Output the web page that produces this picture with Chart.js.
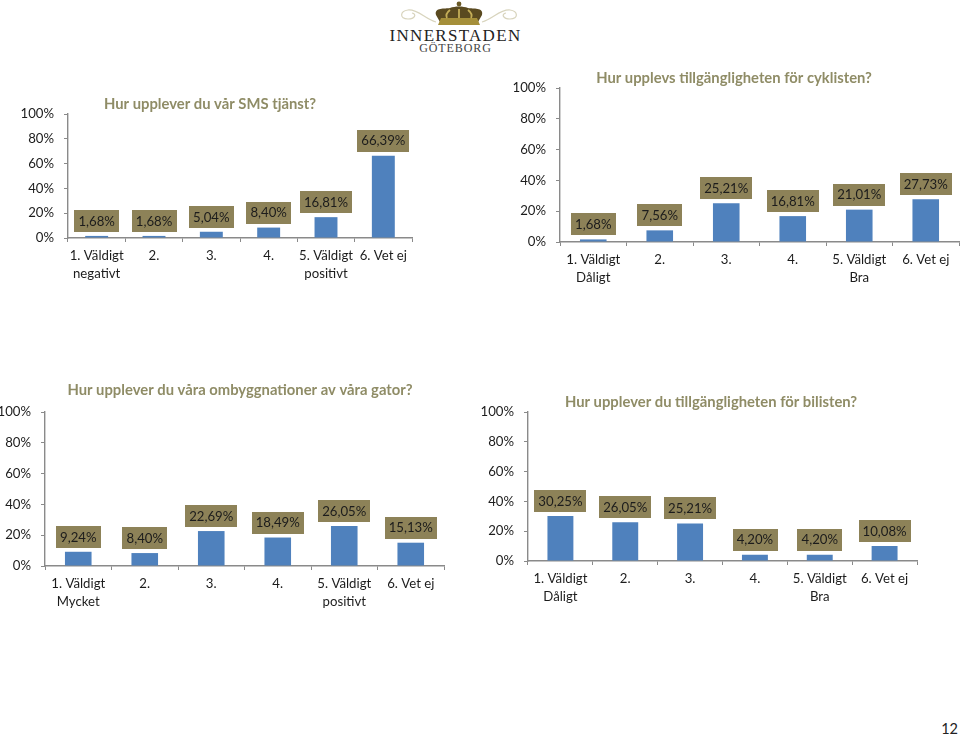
<!DOCTYPE html>
<html lang="sv">
<head>
<meta charset="utf-8">
<title>Innerstaden Göteborg</title>
<script src="https://cdn.jsdelivr.net/npm/chart.js@4"></script>
<style>
html,body{margin:0;padding:0;background:#fff;width:960px;height:736px;overflow:hidden}
#page{position:relative;width:960px;height:736px;overflow:hidden}
.c{position:absolute}
.logo{position:absolute;font-family:"Liberation Serif",serif;color:#222;white-space:nowrap;text-align:center}
#pg{position:absolute;right:2px;top:720px;font:14.5px Lato,sans-serif;color:#222}
</style>
</head>
<body>
<div id="page">
<svg style="position:absolute;left:385px;top:0" width="145" height="30" viewBox="385 0 145 30">
  <path d="M436 22C425 19 418 9 408 10C400 11 399 19 408 19C415 19 417 14 412 13" fill="none" stroke="#d8d4bd" stroke-width="1.2"/>
  <path d="M482 22C493 19 500 9 510 10C518 11 519 19 510 19C503 19 501 14 506 13" fill="none" stroke="#d8d4bd" stroke-width="1.2"/>
  <path d="M436 15C434 7 445 9 450 8C455 6 463 6 468 8C473 9 484 7 482 15L478 22H440Z" fill="#5a4a20"/>
  <path d="M441 18H477L480 25H438Z" fill="#a58f3a"/>
  <path d="M450 10C446 13 446 16 447 18M468 10C472 13 472 16 471 18M459 9V18" stroke="#c4ae58" stroke-width="1.8" fill="none"/>
  <circle cx="459" cy="4" r="2.4" fill="#6b5a26"/>
</svg>
<div class="logo" style="left:385px;width:141px;top:26px;font-size:17px;line-height:20px;letter-spacing:1.3px">INNERSTADEN</div>
<div class="logo" style="left:385px;width:141px;top:42px;font-size:12px;line-height:13px;letter-spacing:.9px;color:#444">GÖTEBORG</div>
<div id="pg">12</div>

<canvas id="c1" class="c"></canvas>
<canvas id="c2" class="c"></canvas>
<canvas id="c3" class="c"></canvas>
<canvas id="c4" class="c"></canvas>
</div>
<script>
const tickLabels = ['0%','20%','40%','60%','80%','100%'];

const titleSms = 'Hur upplever du vår SMS tjänst?';
const catsSms = [['1. Väldigt','negativt'],'2.','3.','4.',['5. Väldigt','positivt'],'6. Vet ej'];
const valsSms = [1.68,1.68,5.04,8.40,16.81,66.39];

const titleCykel = 'Hur upplevs tillgängligheten för cyklisten?';
const catsCykel = [['1. Väldigt','Dåligt'],'2.','3.','4.',['5. Väldigt','Bra'],'6. Vet ej'];
const valsCykel = [1.68,7.56,25.21,16.81,21.01,27.73];

const titleGator = 'Hur upplever du våra ombyggnationer av våra gator?';
const catsGator = [['1. Väldigt','Mycket'],'2.','3.','4.',['5. Väldigt','positivt'],'6. Vet ej'];
const valsGator = [9.24,8.40,22.69,18.49,26.05,15.13];

const titleBil = 'Hur upplever du tillgängligheten för bilisten?';
const catsBil = [['1. Väldigt','Dåligt'],'2.','3.','4.',['5. Väldigt','Bra'],'6. Vet ej'];
const valsBil = [30.25,26.05,25.21,4.20,4.20,10.08];

const FONT = 'Lato, Carlito, sans-serif';
const FS = 13.2;
const AXIS = '#8a8a8a', TEXT = '#1c1c1c', BAR = '#4f81bd', BOX = '#8d8258', TITLE = '#8f8c66';

const AXIS_W = 60, XAXIS_H = 60, TITLE_H = 18;

const valueBoxes = {
  id:'valueBoxes',
  afterDatasetsDraw(chart){
    const {ctx, scales:{x,y}} = chart;
    const vals = chart.data.datasets[0].data;
    ctx.save();
    ctx.font = FS + 'px ' + FONT;
    ctx.textAlign = 'center';
    ctx.textBaseline = 'middle';
    vals.forEach((v,i)=>{
      const t = v.toFixed(2).replace('.',',') + '%';
      const w = ctx.measureText(t).width + 8, h = 22;
      const cx = x.getPixelForValue(i), top = y.getPixelForValue(v) - 4 - h;
      ctx.fillStyle = BOX;
      ctx.fillRect(Math.round(cx - w/2), Math.round(top), Math.round(w), h);
      ctx.fillStyle = TEXT;
      ctx.fillText(t, cx, top + h/2 + 0.5);
    });
    ctx.restore();
  }
};
const placeTitle = {
  id:'placeTitle',
  afterLayout(chart, args, opts){
    const b = chart.titleBlock;
    b.left = opts.center - 300; b.right = opts.center + 300;
  }
};

function draw(id, title, cats, vals, g){
  const el = document.getElementById(id);
  const left = g.axisX - AXIS_W, titlePad = g.y100 - (g.titleY + TITLE_H/2);
  const top = g.titleY - TITLE_H/2, width = g.right - left + 1, height = g.y0 - top + XAXIS_H;
  el.style.left = left + 'px'; el.style.top = top + 'px';
  el.width = width; el.height = height;
  el.style.width = width + 'px'; el.style.height = height + 'px';
  new Chart(el, {
    type:'bar',
    data:{labels:cats, datasets:[{data:vals, backgroundColor:BAR, categoryPercentage:1, barPercentage:0.4}]},
    options:{
      responsive:false, animation:false,
      layout:{padding:{left:0,right:1,top:0,bottom:0}},
      plugins:{
        legend:{display:false}, tooltip:{enabled:false},
        title:{display:true, text:title, color:TITLE, font:{family:FONT,size:14.8,weight:'bold',lineHeight:TITLE_H/14.8},
               padding:{top:0,bottom:titlePad}},
        placeTitle:{center:g.titleX - left}
      },
      scales:{
        x:{
          afterFit(s){ s.height = XAXIS_H; },
          grid:{display:true, offset:true, drawOnChartArea:false, drawTicks:true, tickLength:4, color:AXIS, lineWidth:1},
          border:{display:true, color:AXIS, width:1.4},
          ticks:{color:TEXT, font:{family:FONT,size:FS,lineHeight:18/FS}, padding:5, maxRotation:0, minRotation:0, autoSkip:false}
        },
        y:{
          min:0, max:100,
          afterFit(s){ s.width = AXIS_W; },
          afterBuildTicks(s){ s.ticks = tickLabels.map(t=>({value:parseInt(t,10)})); },
          grid:{display:true, drawOnChartArea:false, drawTicks:true, tickLength:4, color:AXIS, lineWidth:1},
          border:{display:true, color:AXIS, width:1.4},
          ticks:{color:TEXT, font:{family:FONT,size:FS}, padding:10, callback:v=>v+'%'}
        }
      }
    },
    plugins:[placeTitle, valueBoxes]
  });
}

draw('c1', titleSms, catsSms, valsSms, {axisX:68, y100:114, y0:238, right:412, titleX:210, titleY:104});
draw('c2', titleCykel, catsCykel, valsCykel, {axisX:560, y100:88, y0:242, right:959, titleX:734, titleY:78});
draw('c3', titleGator, catsGator, valsGator, {axisX:45, y100:412, y0:566, right:444, titleX:240, titleY:390});
draw('c4', titleBil, catsBil, valsBil, {axisX:528, y100:412, y0:561, right:917, titleX:711, titleY:402});
</script>
</body>
</html>
